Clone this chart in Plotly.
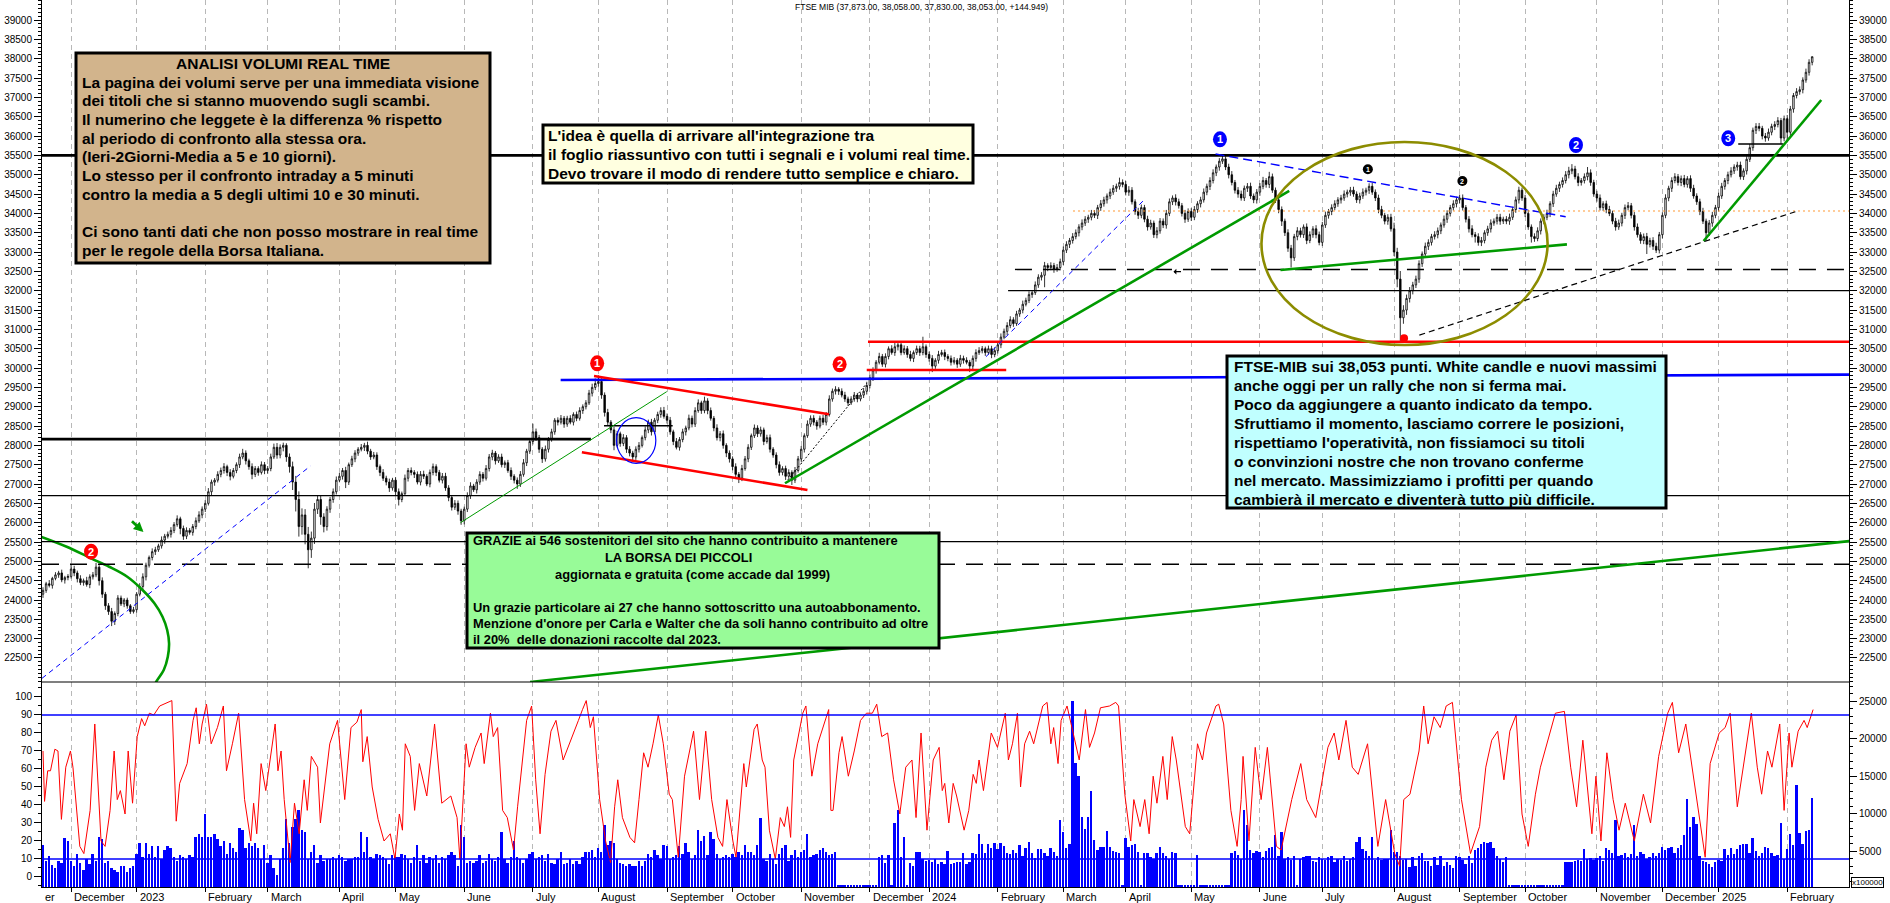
import plotly.graph_objects as go
import pandas as pd

# ---------------- DATA ----------------
first_open = 24150
close = [
# Nov 2022
24250,24420,24380,24560,24650,24700,24520,24580,24610,
# Dec 2022
24800,24700,24550,24450,24500,24400,24600,24650,24850,24500,24150,23850,23700,23450,23650,24050,23900,24000,23850,23700,23750,
# Jan 2023
24150,24350,24600,24900,25100,25250,25300,25400,25550,25650,25700,25800,25950,26100,25850,25650,25800,25750,25900,26050,26200,26350,
# Feb 2023
26500,26800,27050,27100,27250,27350,27450,27300,27200,27350,27500,27700,27800,27600,27450,27250,27400,27300,27500,27350,
# Mar 2023
27400,27700,27950,27750,27950,28000,27700,27450,27050,26600,25900,26200,25700,25300,25600,26350,26600,26150,25900,26350,26600,26800,27100,
# Apr 2023
27200,27350,27050,27500,27650,27800,27900,27950,28000,27850,27700,27750,27450,27300,27150,27050,26900,27100,
# May 2023
26800,26600,26750,27150,27350,27300,27250,27050,27250,27200,27000,27300,27450,27300,27100,27200,26900,26650,26400,26500,26300,26050,
# Jun 2023
26350,26700,26950,26850,27050,27250,27150,27400,27700,27800,27600,27700,27500,27550,27350,27200,27100,27000,27250,27550,27850,28100,
# Jul 2023
28350,28200,27900,27650,27900,28150,28350,28650,28600,28700,28550,28700,28600,28800,28700,28900,29000,29100,29350,29500,29600,
# Aug 2023
29650,29300,28850,28600,28400,28000,28300,28050,28200,27900,27800,27700,27900,28000,28200,28400,28600,28350,28650,28800,28900,28750,
# Sep 2023
28650,28350,28100,27950,28150,28350,28450,28700,28550,28900,29100,28900,29150,28900,28700,28450,28200,28300,28000,27800,27650,
# Oct 2023
27450,27250,27150,27400,27650,27950,28250,28450,28300,28400,28100,28200,27900,27750,27500,27300,27400,27200,27300,27100,27350,27650,
# Nov 2023
27900,28250,28550,28700,28600,28500,28700,28600,28800,29200,29400,29450,29400,29300,29200,29100,29200,29300,29200,29300,29400,29550,
# Dec 2023
29750,29950,30150,30300,30100,30300,30500,30400,30550,30600,30400,30500,30350,30250,30400,30500,30400,30550,30350,
# Jan 2024
30250,30050,30200,30350,30400,30300,30250,30150,30200,30100,30250,30200,30150,30050,30250,30400,30450,30500,30400,30500,30350,30450,
# Feb 2024
30600,30800,30950,31100,31250,31150,31400,31500,31650,31750,31900,31950,32150,32350,32400,32650,32600,32650,32550,32600,32750,
# Mar 2024
33050,33200,33300,33400,33500,33650,33750,33850,33900,34000,33950,34150,34250,34350,34450,34550,34650,34700,34800,34750,
# Apr 2024
34550,34600,34300,34050,33950,34150,33850,33650,33750,33450,33550,33800,33700,34000,34300,34400,34300,34200,34000,33850,34050,
# May 2024
33900,34100,34250,34350,34550,34700,34850,35050,35200,35350,35410,35200,35000,34800,34600,34500,34400,34650,34700,34450,34350,34550,
# Jun 2024
34700,34850,34750,34950,34600,34350,34100,33800,33500,33100,32850,33400,33550,33450,33650,33300,33450,33600,33450,33250,
# Jul 2024
33700,33950,34050,34150,34250,34350,34400,34500,34550,34600,34500,34350,34450,34550,34600,34700,34550,34400,34100,33950,33800,33900,33600,
# Aug 2024
33000,32300,31300,31500,31800,32000,32150,32300,32700,32950,33150,33250,33400,33450,33550,33700,33850,34000,34150,34250,34350,
# Sep 2024
34400,34150,33850,33600,33450,33400,33250,33300,33500,33600,33750,33800,33900,33800,33850,33800,33900,34100,34350,34600,34400,
# Oct 2024
34000,33650,33400,33350,33550,33800,33900,34000,34250,34500,34650,34750,34850,35000,35100,35150,34950,34800,34850,34950,35050,34800,34500,
# Nov 2024
34400,34150,34250,34100,34000,33800,33650,33750,33950,34150,34200,33950,33650,33450,33300,33400,33200,33300,33150,33050,33450,
# Dec 2024
33950,34400,34650,34850,34950,34800,34900,34750,34900,34650,34450,34300,34050,33800,33500,33750,33950,34150,
# Jan 2025
34450,34700,34850,35000,35100,35200,35250,34950,35100,35400,35700,36150,36250,36200,36000,35950,36100,36250,36300,36400,35950,36450,
# Feb 2025
36100,36700,37050,37150,37200,37450,37650,37908,38053,
]

wick_up = [
80,50,95,40,70,55,85,45,60,
140,85,60,90,55,100,65,75,110,50,85,60,70,95,55,75,65,50,60,45,70,
55,85,90,65,50,85,75,55,95,60,70,85,65,90,55,75,80,60,65,85,95,70,
85,95,65,55,80,75,90,50,85,65,60,85,110,70,55,85,65,60,85,70,
65,85,95,110,75,70,55,90,130,160,210,170,150,190,170,160,110,100,95,75,65,85,95,
85,65,95,55,80,75,55,85,65,95,60,80,70,55,85,65,90,60,
75,85,55,95,65,80,60,75,85,95,55,75,80,60,65,85,90,70,55,85,75,60,
65,85,95,55,75,80,60,90,75,85,55,70,85,60,75,80,55,70,85,95,60,75,
210,85,70,55,95,65,80,55,75,85,60,65,80,55,75,85,60,70,85,95,130,
160,85,70,95,55,80,75,55,90,65,80,60,75,85,55,90,65,85,60,70,85,95,
75,85,55,90,65,80,60,95,70,85,90,55,110,70,80,60,95,70,85,55,70,
65,85,60,95,75,80,55,90,70,85,60,75,80,55,70,85,60,75,80,55,90,75,
85,60,95,75,80,55,70,85,60,95,70,80,55,75,85,60,70,80,55,70,85,95,
85,70,55,95,65,80,60,90,105,75,60,85,70,95,55,80,75,260,60,
75,85,55,95,70,80,60,75,85,55,90,70,80,60,75,85,90,70,55,80,75,85,
80,95,70,85,90,65,80,55,95,70,85,60,90,75,80,95,60,85,70,90,80,
95,80,65,90,85,70,95,80,65,90,85,70,95,80,65,90,85,70,125,80,
90,105,80,65,95,80,70,90,85,65,95,80,70,90,85,65,95,80,70,90,80,
85,90,65,80,95,70,85,90,65,80,105,70,85,95,65,80,90,70,85,95,65,80,
85,95,65,125,80,70,95,80,65,90,85,70,95,80,65,90,85,70,95,80,
80,95,65,85,90,70,80,95,65,85,90,70,85,95,65,80,90,70,85,95,65,80,90,
160,110,210,125,100,95,80,90,85,65,95,80,70,90,85,65,95,80,70,90,80,
85,90,65,80,95,70,85,90,65,80,95,70,85,90,65,80,95,70,85,90,70,
80,95,65,85,90,70,80,95,65,85,90,70,80,95,105,125,80,90,65,85,150,90,70,
85,90,65,80,95,70,85,90,65,80,95,70,85,90,65,80,95,70,85,90,70,
80,95,65,85,90,70,80,95,65,85,90,70,80,95,65,80,90,70,
85,90,65,80,95,70,85,90,65,80,95,70,85,90,65,80,95,70,85,90,70,80,
95,80,65,90,85,70,95,80,5,
]

wick_dn = [
95,65,55,85,50,75,60,95,70,
55,85,95,65,80,55,95,70,60,125,95,105,85,125,95,70,55,85,75,60,50,
75,55,85,95,60,75,85,55,70,95,60,85,70,55,150,95,75,60,85,70,55,85,
75,55,85,95,60,75,80,95,105,55,70,85,60,95,80,125,70,85,55,95,
85,70,55,95,85,105,125,155,205,310,260,210,260,480,210,150,125,205,150,105,95,85,70,
55,85,155,75,60,85,70,55,95,80,75,60,85,95,70,85,105,70,
85,155,70,55,85,75,95,60,85,70,55,85,75,95,60,85,75,95,85,70,95,105,
95,75,85,55,95,70,85,60,75,85,95,55,70,85,60,95,85,125,75,60,85,70,
75,85,95,105,70,85,55,75,85,60,95,70,55,85,75,60,85,70,55,85,70,
85,95,105,75,85,125,55,85,70,95,85,105,75,85,55,70,85,95,60,75,85,60,
85,75,95,55,85,70,95,60,85,75,55,85,70,95,60,85,75,95,85,105,95,
95,85,125,75,55,85,70,60,85,75,95,55,85,70,95,85,75,95,60,125,75,55,
75,85,55,70,85,95,60,75,85,55,70,85,95,60,75,85,55,70,85,60,75,85,
75,85,95,55,70,85,75,55,85,95,70,55,85,75,95,60,85,70,85,
85,155,70,85,55,95,75,85,60,95,70,85,55,155,75,85,60,70,85,55,95,70,
75,85,55,95,70,85,60,75,85,55,70,85,60,75,85,310,95,70,85,60,75,
85,75,95,80,70,95,85,75,95,80,70,95,85,75,95,80,70,95,85,75,
85,95,70,85,95,75,80,95,70,85,95,75,80,95,70,85,95,75,80,95,70,
95,75,85,95,70,80,95,75,85,95,70,80,95,75,85,95,70,80,95,75,85,95,
95,75,85,95,70,80,95,125,85,95,250,80,95,75,85,95,70,80,95,75,
95,75,85,95,70,80,95,75,85,95,70,80,95,75,85,95,70,80,95,75,85,95,70,
105,210,600,155,125,105,95,80,95,85,70,95,80,75,95,85,70,95,80,75,95,
95,75,85,95,70,155,85,95,75,80,95,70,85,95,75,80,95,70,85,95,75,
95,75,155,85,70,95,80,75,95,85,70,95,80,75,95,85,70,95,80,75,95,85,70,
95,75,85,95,70,80,95,75,85,95,70,80,95,75,85,95,250,80,95,75,85,
95,75,85,95,70,80,95,75,85,95,70,80,95,75,210,85,95,75,
95,75,85,95,70,80,95,75,85,95,70,80,95,75,85,95,70,80,95,75,155,85,
260,85,95,75,80,95,70,85,78,
]

volume = [
5850,3700,4400,3200,2700,3700,3450,6800,6300,
3700,2970,4650,3450,2490,3930,3210,4650,3700,6810,6570,3450,3700,2730,2490,2250,2970,2970,2250,2730,2970,
4650,6090,4170,6090,4650,5610,4170,5610,3930,5130,5610,5370,4170,3690,4410,4170,3930,4410,4170,6810,7290,6810,
9930,6810,6810,7290,6570,5610,6330,4650,6090,5370,4890,8010,7770,5370,6090,5610,6090,5370,3930,5850,
3450,4410,2730,1770,3930,5370,9210,6090,8250,9210,10410,7770,7530,3930,4890,5850,3450,4410,3690,3930,3930,4170,3930,
4410,4170,3690,3930,3930,4170,4170,7530,4890,6810,4170,3930,4650,4410,4170,3930,3210,4410,
4170,4170,4650,4410,3930,3450,4170,5850,3690,4410,3450,4170,3930,4410,3450,4170,3930,4410,4890,4410,2970,8490,
6810,3450,3690,3450,3690,4410,3450,3690,4650,3930,3690,4170,7530,3930,3450,4170,6330,4170,3930,3450,3930,4650,
4890,3930,4170,4410,3690,4650,3450,3210,3930,4890,3210,3450,3930,3210,3690,3210,4170,4890,4890,5130,4170,
5370,4890,8490,5850,6330,6090,3930,3450,3210,2970,3210,2970,2970,3690,2970,3690,4650,4170,5130,4410,3930,5850,
5610,3930,4170,4410,5610,4650,6090,4890,3930,4410,7770,6330,7050,4410,7530,6570,4650,3930,4170,4410,4170,
4650,4170,4890,4410,5850,4890,4890,4410,5850,9450,3930,3690,4650,3930,3210,4650,5370,5850,3690,4410,5130,4170,
4890,5130,7290,4170,4410,4650,5130,5370,4890,4410,4650,4890,450,450,450,450,450,450,450,450,450,450,
450,450,450,4170,4410,3450,4410,450,8730,10410,4170,6810,450,3450,2970,4890,4890,3930,3690,
3800,3500,3900,3300,3600,3300,5000,3300,3400,3500,3600,4700,3300,3500,4800,4600,7300,6000,4800,6000,5400,6100,
5300,6100,5700,4800,4600,5100,4700,5800,4300,5400,6200,4700,4100,5300,5300,4800,4300,5400,4900,4300,9100,
7500,5400,6000,25000,16700,15000,9600,8000,9600,13000,6500,5200,5600,5600,7700,5600,5000,4900,4800,450,
6700,5600,5800,6000,4900,450,4800,4800,4200,4000,4700,5500,4700,4400,4000,4900,4700,450,450,450,450,
450,450,4500,450,450,450,450,450,450,450,450,450,450,4800,5000,4500,4000,10500,8500,5200,4800,5000,
4900,4200,5000,5400,5600,7200,4300,7500,4000,4200,3800,4300,450,3900,4200,4300,4400,3700,3600,4200,
4000,3800,4200,4400,3600,4000,3800,4400,3700,4000,4200,6200,6900,5300,5000,4300,6900,3800,4200,3800,4000,3900,7800,
4900,4900,4300,3800,3900,2900,4200,3000,4400,4700,3700,3700,3000,4200,3200,4400,3000,3600,3200,2800,4400,
4200,3800,3300,4300,3400,5100,5400,5900,6200,6100,6200,5400,4300,3900,3600,4200,450,450,450,450,450,
450,450,450,450,450,450,450,450,450,450,450,450,450,3500,3600,3500,3700,3800,3700,5300,3900,4100,3800,
4100,4400,3700,5400,5200,4800,9200,4400,4500,4700,4200,4600,8500,4300,4900,4600,3900,4200,4700,4300,4800,
5500,5200,5400,5600,4800,5400,5800,7200,11900,8200,9600,8600,4400,3700,3500,3300,2900,3500,
3800,3700,5300,4500,5400,4600,5300,5800,6000,5900,4800,6800,5000,4400,4700,5600,5400,4800,4300,4500,8800,3900,
5300,7300,5800,13800,7400,6000,7700,7800,12100,
]

# oscillator (red line): trading-day position and value
osc_day = [
0,0.5,1.5,2.4,3.8,4.8,5.9,7.3,8.8,9.6,11.8,13.1,15.1,16.6,18.6,19.9,21.5,22.8,23.8,24.8,
26.3,27.3,28.7,30.2,31.6,32.6,34.1,35.5,37.4,40.3,41.3,42.7,43.8,46.2,48.1,49.1,50.1,51.0,52.4,53.9,
55.9,57.8,58.8,60.7,62.7,64.6,66.6,67.5,68.5,69.9,71.4,74.4,75.3,76.3,77.3,79.2,80.6,82.1,83.7,84.7,
86.0,88.0,88.9,91.9,94.4,96.7,98.7,100.6,102.0,102.5,103.9,105.5,107.4,109.3,111.3,112.8,114.2,115.2,116.1,117.7,
119.1,120.6,123.0,125.5,127.8,130.7,132.7,133.6,135.6,136.6,138.5,140.4,141.4,143.4,144.3,145.7,147.3,148.8,150.8,152.1,
155.0,156.6,157.9,159.3,160.9,162.8,164.4,166.7,168.6,171.6,172.9,174.1,175.4,176.4,178.4,180.3,181.9,183.2,184.2,185.7,
188.1,189.6,191.0,192.5,193.9,195.5,197.2,198.8,200.7,201.7,203.6,205.6,208.5,210.4,212.4,214.3,216.3,217.8,219.2,221.1,
222.1,224.6,225.4,227.9,228.9,230.5,231.4,232.8,234.7,236.3,237.6,238.6,239.6,240.6,243.5,244.5,246.4,248.3,251.8,252.5,
253.2,255.1,256.1,258.1,260.0,262.0,263.9,265.8,267.2,268.8,270.7,272.6,274.6,276.5,278.5,279.8,281.4,283.3,285.3,287.2,
288.2,
289.0,290.3,291.7,292.8,295.2,296.7,298.1,299.1,300.0,301.4,303.9,305.9,308.4,309.4,310.7,312.3,313.3,314.6,316.2,317.5,
320.4,321.8,323.0,323.9,325.3,326.3,328.2,332.1,334.1,335.4,337.0,338.9,341.8,343.8,344.7,346.7,348.6,349.6,351.6,353.1,
354.5,355.8,357.0,358.9,360.3,361.9,363.2,366.1,367.5,370.0,371.6,372.9,375.9,376.8,378.4,380.7,382.7,384.0,384.6,386.5,
388.5,390.4,392.4,395.3,396.8,400.2,403.1,405.0,407.9,411.8,413.8,415.3,417.6,419.6,421.5,424.5,425.8,427.8,430.3,433.2,
434.8,436.1,438.1,441.0,442.5,443.9,445.8,447.8,449.7,451.7,454.6,457.5,460.4,462.4,464.3,466.2,468.2,470.1,472.1,474.0,
476.0,478.3,479.9,482.8,484.7,487.6,489.6,491.5,493.5,496.4,497.7,499.3,501.2,503.2,505.1,507.1,510.0,512.9,515.2,517.8,
520.7,522.2,524.2,526.5,528.5,531.4,532.7,534.3,537.2,539.1,540.7,543.0,545.0,547.5,549.4,550.8,552.7,554.1,556.6,558.0,
559.6,560.5,562.5,564.4,565.4,567.3,
]
osc_val = [
70,42,59,59,71,70,32,61,70,61,17,13,37,85,20,17,37,70,43,48,
35,70,41,78,88,84,91,90,95,97,98,31,52,63,87,94,74,85,96,74,
83,95,59,74,91,43,20,41,24,63,48,85,59,70,43,8,41,24,54,37,
67,61,30,74,87,43,83,86,93,64,78,50,32,20,24,10,35,26,74,67,
37,63,45,85,41,45,33,10,74,61,72,80,63,91,78,83,37,33,15,39,
87,95,54,24,57,81,87,65,74,87,93,98,83,89,43,20,8,39,54,33,
22,19,43,69,61,74,90,74,46,43,11,56,81,43,81,43,22,17,43,20,
11,63,50,82,85,65,61,26,10,33,28,39,22,65,91,95,56,74,93,37,
37,69,78,56,70,87,91,91,96,78,80,54,35,61,65,33,80,26,65,72,
48,
52,30,52,45,26,37,57,52,65,48,80,72,91,65,74,91,50,74,81,74,
95,97,74,83,63,87,95,65,93,72,80,94,95,97,95,46,20,43,28,43,
24,56,41,67,43,78,65,28,24,74,65,80,95,96,85,37,17,43,67,20,
72,43,72,17,15,43,63,43,33,72,80,65,87,61,57,74,52,17,43,13,
6,43,46,70,95,74,89,83,95,97,43,13,28,61,76,81,54,81,90,35,
17,46,61,80,91,92,61,39,76,24,56,20,69,43,26,41,20,46,30,67,
91,97,69,85,61,24,11,63,80,83,91,39,61,91,61,46,70,61,85,37,
80,61,81,87,83,93,
]

# green curve at the left of the chart (trading day, price)
arc_day = [-0.6, 7.6, 15.4, 21.2, 27.0, 31.9, 35.7, 38.3, 39.8, 40.4, 40.0, 38.7, 36.3, 35.2]
arc_price = [25637, 25378, 25078, 24861, 24602, 24259, 23915, 23568, 23224, 22880, 22533, 22189, 21887, 21700]

price_ticks = list(range(22500, 39001, 500))
osc_ticks = list(range(0, 101, 10))
vol_ticks = [5000, 10000, 15000, 20000, 25000]

holidays = pd.to_datetime([
    "2022-12-26", "2023-04-07", "2023-04-10", "2023-05-01", "2023-08-15",
    "2023-12-25", "2023-12-26", "2024-01-01", "2024-03-29", "2024-04-01",
    "2024-05-01", "2024-08-15", "2024-12-24", "2024-12-25", "2024-12-26",
    "2024-12-31", "2025-01-01"])

# ---------------- derived series ----------------
cal = pd.bdate_range("2022-11-18", "2025-03-31")
cal = cal[~cal.isin(holidays)]

n = min(len(close), len(wick_up), len(wick_dn))
c = close[:n]
o = [first_open] + c[:-1]
h = [max(a, b) + w for a, b, w in zip(o, c, wick_up[:n])]
lo = [min(a, b) - w for a, b, w in zip(o, c, wick_dn[:n])]
days = list(range(n))
vdays = list(range(len(volume)))
m = min(len(osc_day), len(osc_val))

XR = [-0.32, 578.8]
month_idx, month_lab = [], []
prev = None
for i, d in enumerate(cal):
    key = (d.year, d.month)
    if prev is not None and key != prev and i <= 579:
        month_idx.append(i)
        month_lab.append(str(d.year) if d.month == 1 else d.strftime("%B"))
    prev = key

W, H = 1890, 903
def px(xp): return xp / W
def py(yp): return 1 - yp / H

FONT = "Liberation Sans, Arial, Helvetica, sans-serif"
GREEN = "#009a00"
BLUE = "#0000ff"
RED = "#ff0000"

fig = go.Figure()
fig.add_trace(go.Candlestick(
    x=days, open=o, high=h, low=lo, close=c, xaxis="x", yaxis="y",
    increasing=dict(line=dict(color="black", width=0.8), fillcolor="white"),
    decreasing=dict(line=dict(color="black", width=0.8), fillcolor="black"),
    whiskerwidth=0, showlegend=False, hoverinfo="skip"))
fig.add_trace(go.Scatter(x=arc_day, y=arc_price, mode="lines", xaxis="x", yaxis="y",
                         line=dict(color=GREEN, width=2.6, shape="spline"),
                         showlegend=False, hoverinfo="skip"))
fig.add_trace(go.Scatter(x=[0], y=[30000], mode="markers", xaxis="x", yaxis="y5",
                         marker=dict(opacity=0), showlegend=False, hoverinfo="skip"))
fig.add_trace(go.Bar(x=vdays, y=volume, xaxis="x2", yaxis="y3", width=0.6,
                     marker=dict(color=BLUE, line=dict(width=0)),
                     showlegend=False, hoverinfo="skip"))
fig.add_trace(go.Scatter(x=osc_day[:m], y=osc_val[:m], mode="lines", xaxis="x2", yaxis="y4",
                         line=dict(color=RED, width=1), showlegend=False, hoverinfo="skip"))

shapes = []
def seg(x0, y0, x1, y1, color, width, dash="solid", xref="x", yref="y"):
    shapes.append(dict(type="line", xref=xref, yref=yref, x0=x0, y0=y0, x1=x1, y1=y1,
                       line=dict(color=color, width=width, dash=dash), layer="above"))

# horizontal levels
seg(XR[0], 35500, XR[1], 35500, "black", 2.6)
seg(309.3, 32000, XR[1], 32000, "black", 1.2)
seg(311.5, 32550, XR[1], 32550, "black", 1.4, "17px,11px")
seg(330.1, 34062, XR[1], 34062, "#ff9933", 1.2, "2px,3px")
seg(264.4, 30680, XR[1], 30680, RED, 2.6)
seg(264.0, 29950, 308.7, 29950, RED, 2.6)
seg(165.9, 29690, XR[1], 29830, BLUE, 2.6)
seg(XR[0], 28160, 175.6, 28160, "black", 2.8)
seg(XR[0], 26700, XR[1], 26700, "black", 1.2)
seg(XR[0], 25508, XR[1], 25508, "black", 1.2)
seg(XR[0], 24923, XR[1], 24923, "black", 1.4, "17px,11px")
seg(179.8, 28508, 201.8, 28508, "black", 1.4)
seg(543.3, 35795, 557.7, 35795, "black", 1.6)
# trend lines
seg(156.1, 21880, 579.5, 25530, GREEN, 2.6)
seg(133.8, 26000, 199.9, 29390, GREEN, 1.0)
seg(237.8, 27020, 399.4, 34580, GREEN, 2.6)
seg(396.6, 32535, 488.4, 33199, GREEN, 2.6)
seg(532.2, 33285, 569.9, 36933, GREEN, 2.6)
seg(-0.3, 21975, 85.7, 27466, BLUE, 1.0, "5px,4px")
seg(302.2, 30293, 353.4, 34389, BLUE, 1.0, "5px,4px")
seg(375.8, 35536, 488.0, 33915, BLUE, 1.4, "9px,5px")
seg(238.7, 27105, 264.0, 29606, "black", 1.0, "2px,2px")
seg(441.1, 30853, 561.6, 34044, "black", 1.2, "6px,4px")
seg(176.6, 29795, 251.9, 28803, RED, 2.6)
seg(172.7, 27820, 245.0, 26846, RED, 2.6)
# ellipses
shapes.append(dict(type="circle", xref="x", yref="y", x0=183.8, x1=196.4, y0=27536, y1=28715,
                   line=dict(color=BLUE, width=1.2), layer="above"))
shapes.append(dict(type="circle", xref="x", yref="y", x0=390.5, x1=482.2, y0=30596, y1=35847,
                   line=dict(color="#8c8c00", width=2.6), layer="above"))
# lower panel levels
seg(XR[0], 90, XR[1], 90, BLUE, 1.5, xref="x2", yref="y4")
seg(XR[0], 10, XR[1], 10, BLUE, 1.5, xref="x2", yref="y4")

# numbered markers
markers = [
    (15.4, 25250, "2", RED, 7, 8, 11), (177.6, 30123, "1", RED, 7, 8, 11),
    (255.3, 30097, "2", RED, 7, 8, 11), (377.2, 35916, "1", BLUE, 7, 8, 11),
    (491.3, 35770, "2", BLUE, 7, 8, 11), (540.1, 35943, "3", BLUE, 7, 8, 11),
    (424.6, 35140, "1", "black", 5, 5, 7), (454.9, 34838, "2", "black", 5, 5, 7),
    (436.2, 30770, "", RED, 4, 4, 6),
]
annotations = []
for xm, ym, t, col, rx, ry, fs in markers:
    shapes.append(dict(type="circle", xref="x", yref="y", xsizemode="pixel", ysizemode="pixel",
                       xanchor=xm, yanchor=ym, x0=-rx, x1=rx, y0=-ry, y1=ry,
                       fillcolor=col, line=dict(width=0), layer="above"))
    if t:
        annotations.append(dict(x=xm, y=ym, xref="x", yref="y", text="<b>%s</b>" % t, showarrow=False,
                                font=dict(family=FONT, size=fs, color="white")))

# panel separator
seg(px(42), py(682), px(1849), py(682), "black", 1.2, xref="paper", yref="paper")

# text boxes
boxes = [(76, 53, 490, 263, "#d2b48c"), (543, 125, 973, 183, "#ffffe0"),
         (467, 533, 939, 648, "#98fb98"), (1227, 356, 1666, 508, "#c0ffff")]
for x0, y0, x1, y1, fc in boxes:
    shapes.append(dict(type="rect", xref="paper", yref="paper", x0=px(x0), x1=px(x1),
                       y0=py(y1), y1=py(y0), fillcolor=fc, line=dict(color="black", width=3),
                       layer="above"))

def txt(xp, yp, t, size=15.5, anchor="left", family=FONT, bold=True, color="black"):
    annotations.append(dict(x=px(xp), y=py(yp), xref="paper", yref="paper", xanchor=anchor,
                            yanchor="middle", showarrow=False,
                            text=("<b>%s</b>" % t) if bold else t,
                            font=dict(family=family, size=size, color=color)))

tan_lines = ["La pagina dei volumi serve per una immediata visione",
             "dei titoli che si stanno muovendo sugli scambi.",
             "Il numerino che leggete è la differenza % rispetto",
             "al periodo di confronto alla stessa ora.",
             "(Ieri-2Giorni-Media a 5 e 10 giorni).",
             "Lo stesso per il confronto intraday a 5 minuti",
             "contro la media a 5 degli ultimi 10 e 30 minuti.",
             "",
             "Ci sono tanti dati che non posso mostrare in real time",
             "per le regole della Borsa Italiana."]
txt(283, 63.3, "ANALISI VOLUMI REAL TIME", anchor="center")
for k, t in enumerate(tan_lines):
    if t:
        txt(79.5, 82.0 + 18.7 * k, t)

for k, t in enumerate(["L'idea è quella di arrivare all'integrazione tra",
                       "il foglio riassuntivo con tutti i segnali e i volumi real time.",
                       "Devo trovare il modo di rendere tutto semplice e chiaro."]):
    txt(546, 136 + 18.6 * k, t)

cyan_lines = ["FTSE-MIB sui 38,053 punti. White candle e nuovi massimi",
              "anche oggi per un rally che non si ferma mai.",
              "Poco da aggiungere a quanto indicato da tempo.",
              "Sfruttiamo il momento, lasciamo correre le posizioni,",
              "rispettiamo l'operatività, non fissiamoci su titoli",
              "o convinzioni nostre che non trovano conferme",
              "nel mercato. Massimizziamo i profitti per quando",
              "cambierà il mercato e diventerà tutto più difficile."]
for k, t in enumerate(cyan_lines):
    txt(1231.5, 366.7 + 19 * k, t)

GS = 12.9
txt(470.7, 540.7, "GRAZIE ai 546 sostenitori del sito che hanno contribuito a mantenere", GS)
txt(678, 557.3, "LA BORSA DEI PICCOLI", GS, anchor="center")
txt(692, 574.0, "aggiornata e gratuita (come accade dal 1999)", GS, anchor="center")
txt(470.7, 607.3, "Un grazie particolare ai 27 che hanno sottoscritto una autoabbonamento.", GS)
txt(470.7, 623.3, "Menzione d'onore per Carla e Walter che da soli hanno contribuito ad oltre", GS)
txt(470.7, 639.3, "il 20%  delle donazioni raccolte dal 2023.", GS)

# title
txt(921, 7, "FTSE MIB (37,873.00, 38,058.00, 37,830.00, 38,053.00, +144.949)", 8.5,
    anchor="center", bold=False)

# month labels
for xi, lab in zip(month_idx, month_lab):
    annotations.append(dict(x=xi, y=py(897), xref="x2", yref="paper", xanchor="left", xshift=1,
                            yanchor="middle", showarrow=False, text=lab,
                            font=dict(family=FONT, size=11, color="black")))
txt(43, 897, "er", 11, bold=False)

# x100000 box
annotations.append(dict(x=px(1851), y=py(882), xref="paper", yref="paper", xanchor="left",
                        yanchor="middle", showarrow=False, text="x100000", bgcolor="white",
                        bordercolor="black", borderwidth=1, borderpad=0,
                        font=dict(family=FONT, size=8, color="black")))

# arrows
annotations.append(dict(x=32.2, y=25760, xref="x", yref="y", ax=-13, ay=-12, text="",
                        showarrow=True, arrowhead=2, arrowsize=0.7, arrowwidth=2.8, arrowcolor=GREEN))
annotations.append(dict(x=362.3, y=32492, xref="x", yref="y", ax=9, ay=0, text="",
                        showarrow=True, arrowhead=1, arrowsize=0.8, arrowwidth=1.2, arrowcolor="black"))

tickfont = dict(family=FONT, size=10, color="black")
price_dom = [py(682), 1.0]
low_dom = [py(887), py(682)]
xdom = [px(42), px(1849)]
grid = dict(showgrid=True, gridcolor="#b8b8b8", griddash="5px,4px", gridwidth=1)

def yax(ticks, rng, side, minor_step, **kw):
    d = dict(range=rng, side=side, tickmode="array", tickvals=ticks,
             ticktext=[str(t) for t in ticks], ticks="outside", ticklen=7,
             tickcolor="black", tickfont=tickfont, showgrid=False, zeroline=False,
             showline=True, linecolor="black", linewidth=1,
             minor=dict(dtick=minor_step, ticks="outside", ticklen=3, tickcolor="black",
                        showgrid=False))
    d.update(kw)
    return d

fig.update_layout(
    width=W, height=H, autosize=False, margin=dict(l=0, r=0, t=0, b=0, pad=0),
    paper_bgcolor="white", plot_bgcolor="white", showlegend=False, bargap=0,
    xaxis=dict(domain=xdom, range=XR, anchor="y", tickmode="array", tickvals=month_idx,
               showticklabels=False, ticks="", zeroline=False, showline=False,
               rangeslider=dict(visible=False), **grid),
    xaxis2=dict(domain=xdom, range=XR, anchor="y3", tickmode="array", tickvals=month_idx,
                showticklabels=False, ticks="outside", ticklen=4, tickcolor="black",
                zeroline=False, showline=True, linecolor="black", linewidth=1, **grid),
    yaxis=yax(price_ticks, [21879, 39520], "left", 100, domain=price_dom, anchor="x"),
    yaxis5=yax(price_ticks, [21879, 39520], "right", 100, overlaying="y", anchor="x"),
    yaxis3=yax(vol_ticks, [200, 27533], "right", 1000, domain=low_dom, anchor="x2"),
    yaxis4=yax(osc_ticks, [-5.56, 108.33], "left", 5, overlaying="y3", anchor="x2"),
    shapes=shapes, annotations=annotations,
)

fig.write_html("out.html", config={"displayModeBar": False, "responsive": False},
               post_script="document.body.style.margin='0';document.body.style.overflow='hidden';")
